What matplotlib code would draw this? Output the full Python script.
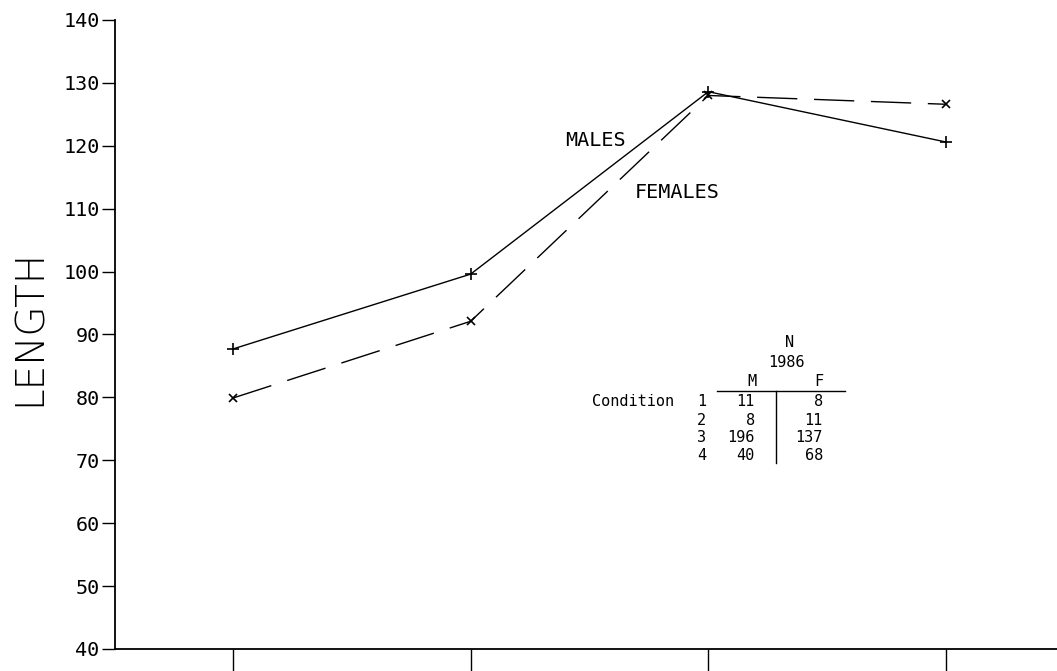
import matplotlib
matplotlib.use("Agg")
import matplotlib.pyplot as plt

# mean length by condition
conditions = [1, 2, 3, 4]
males = [87.7, 99.6, 128.6, 120.6]
females = [79.9, 92.1, 128.0, 126.6]

# sample sizes, 1986
n_males = [11, 8, 196, 40]
n_females = [8, 11, 137, 68]

y_ticks = [40, 50, 60, 70, 80, 90, 100, 110, 120, 130, 140]

MONO = "DejaVu Sans Mono"

fig = plt.figure(figsize=(10.57, 6.71), dpi=100)
ax = fig.add_axes([0.1088, 0.0328, 0.8912, 0.9374])

ax.plot(conditions, males, color="black", linewidth=1.0, marker="+",
        markersize=9, markeredgewidth=1.2)
ax.plot(conditions, females, color="black", linewidth=1.0, marker="x",
        markersize=6, markeredgewidth=1.2, dashes=(29, 12))

ax.set_xlim(0.5036, 4.467)
ax.set_ylim(40, 140)
ax.set_xticks(conditions)
ax.set_xticklabels([])
ax.set_yticks(y_ticks)
ax.set_yticklabels([str(t) for t in y_ticks], fontfamily=MONO, fontsize=14.5)

ax.tick_params(axis="y", direction="out", length=9.5, width=1.0, pad=1.5)
ax.tick_params(axis="x", direction="out", length=22, width=1.0)

for side in ["top", "right"]:
    ax.spines[side].set_visible(False)
for side in ["left", "bottom"]:
    ax.spines[side].set_linewidth(1.3)
ax.spines["left"].set_bounds(40, 140)

# axis title
fig.text(0.0284, 1 - 327 / 671, "LENGTH", rotation=90, ha="center", va="center",
         fontsize=28, fontfamily="DejaVu Sans", fontweight=200)

# series labels
ax.text(2.397, 120.9, "MALES", fontfamily=MONO, fontsize=14.5, ha="left", va="center")
ax.text(2.691, 112.65, "FEMALES", fontfamily=MONO, fontsize=14.5, ha="left", va="center")

# N table
tfs = 11
ax.text(3.343, 88.8, "N", fontfamily=MONO, fontsize=tfs, ha="center", va="center")
ax.text(3.327, 85.6, "1986", fontfamily=MONO, fontsize=tfs, ha="center", va="center")
ax.text(3.183, 82.45, "M", fontfamily=MONO, fontsize=tfs, ha="center", va="center")
ax.text(3.465, 82.45, "F", fontfamily=MONO, fontsize=tfs, ha="center", va="center")
ax.plot([3.036, 3.575], [81.0, 81.0], color="black", linewidth=1.0)
ax.plot([3.284, 3.284], [81.0, 69.6], color="black", linewidth=1.0)
ax.text(2.510, 79.27, "Condition", fontfamily=MONO, fontsize=tfs, ha="left", va="center")

row_y = [79.27, 76.4, 73.7, 70.84]
for c, ry, nm, nf in zip(conditions, row_y, n_males, n_females):
    ax.text(2.973, ry, str(c), fontfamily=MONO, fontsize=tfs, ha="center", va="center")
    ax.text(3.196, ry, str(nm), fontfamily=MONO, fontsize=tfs, ha="right", va="center")
    ax.text(3.482, ry, str(nf), fontfamily=MONO, fontsize=tfs, ha="right", va="center")

fig.savefig("out.png", dpi=100)
